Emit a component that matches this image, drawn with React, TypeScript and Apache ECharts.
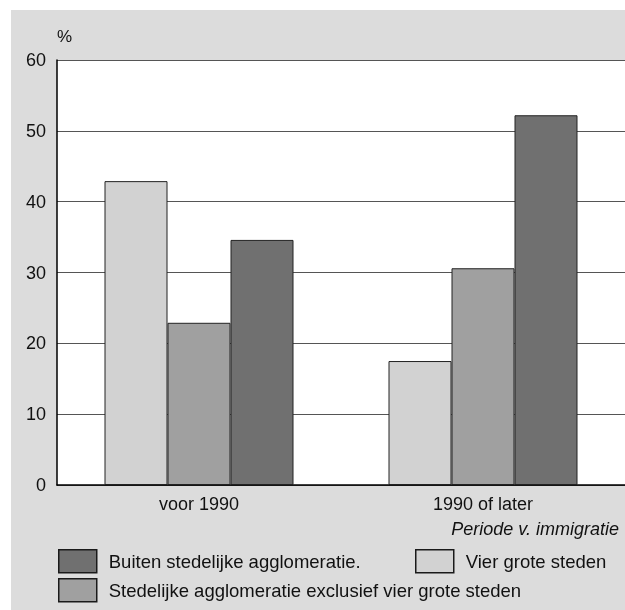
import React, { useEffect, useRef } from "react";
import * as echarts from "echarts";

const categories = ["voor 1990", "1990 of later"];
const seriesNames = [
  "Vier grote steden",
  "Stedelijke agglomeratie exclusief vier grote steden",
  "Buiten stedelijke agglomeratie.",
];
const vierGroteSteden = [42.9, 17.5];
const stedelijkExcl = [22.9, 30.6];
const buitenAgglo = [34.6, 52.2];
const seriesColors = ["#d2d2d2", "#a0a0a0", "#707070"];
const yTicks = { min: 0, max: 60, interval: 10 };

export default function App() {
  const ref = useRef<HTMLDivElement>(null);
  useEffect(() => {
    if (!ref.current) return;
    const chart = echarts.init(ref.current, undefined, { renderer: "svg" });
    const values = [vierGroteSteden, stedelijkExcl, buitenAgglo];
    const font = "Liberation Sans, Arial, Helvetica, sans-serif";
    const legendText = {
      fontSize: 18.5,
      color: "#111",
      fontFamily: font,
      padding: [0, 0, 0, 7],
    };
    const legendBase = {
      itemWidth: 38,
      itemHeight: 23,
      icon: "rect",
      padding: 0,
      itemStyle: { borderColor: "#1a1a1a", borderWidth: 1.5 },
      textStyle: legendText,
      selectedMode: false,
    };
    chart.setOption({
      animation: false,
      textStyle: { fontFamily: font },
      graphic: [
        {
          type: "rect",
          z: -10,
          shape: { x: 11, y: 10, width: 614, height: 600 },
          style: { fill: "#dcdcdc" },
          silent: true,
        },
        {
          type: "text",
          left: 57,
          top: 28,
          style: { text: "%", fontSize: 17, fill: "#111", fontFamily: font },
        },
        {
          type: "text",
          right: 6,
          top: 520,
          style: {
            text: "Periode v. immigratie",
            fontSize: 18,
            fontStyle: "italic",
            fill: "#111",
            fontFamily: font,
          },
        },
      ],
      grid: { left: 57, top: 60, width: 568, height: 425, backgroundColor: "#fff", show: true, borderWidth: 0 },
      legend: [
        { ...legendBase, data: [seriesNames[2]], left: 58, top: 549 },
        { ...legendBase, data: [seriesNames[0]], left: 415, top: 549 },
        { ...legendBase, data: [seriesNames[1]], left: 58, top: 578 },
      ],
      xAxis: {
        type: "category",
        data: categories,
        axisLine: { lineStyle: { color: "#000", width: 1.5 } },
        axisTick: { show: false },
        axisLabel: { fontSize: 18, color: "#111", margin: 10, fontFamily: font },
      },
      yAxis: {
        type: "value",
        min: yTicks.min,
        max: yTicks.max,
        interval: yTicks.interval,
        axisLine: { show: true, lineStyle: { color: "#000", width: 1.5 } },
        axisTick: { show: false },
        axisLabel: { fontSize: 18, color: "#111", margin: 11, fontFamily: font },
        splitLine: { lineStyle: { color: "#555", width: 1 } },
      },
      series: seriesNames.map((name, i) => ({
        name,
        type: "bar",
        data: values[i],
        barWidth: 63,
        barGap: "0%",
        itemStyle: { color: seriesColors[i], borderColor: "#222", borderWidth: 1 },
      })),
    });
    return () => chart.dispose();
  }, []);
  return (
    <div
      ref={ref}
      style={{ position: "fixed", left: 0, top: 0, width: 625, height: 610 }}
    />
  );
}
